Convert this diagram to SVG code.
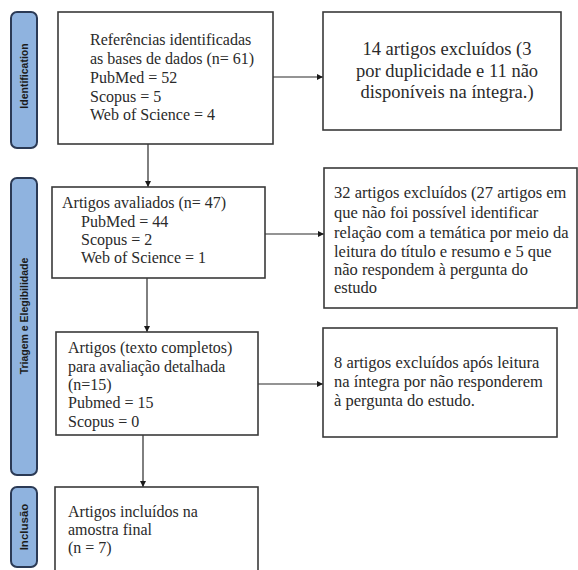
<svg xmlns="http://www.w3.org/2000/svg" width="578" height="570" viewBox="0 0 578 570">
<style>
.bg{fill:#ffffff}
.side{fill:#8fb3df;stroke:#2b3a55;stroke-width:2}
.slabel{font-family:"Liberation Sans",Arial,sans-serif;font-weight:bold;font-size:10.5px;fill:#1b1b1b;text-anchor:middle;dominant-baseline:central}
.box{fill:#ffffff;stroke:#3a3a3a;stroke-width:1.6}
.t{font-family:"Liberation Serif","Times New Roman",serif;font-size:16px;fill:#2a2a2a}
.tl{font-family:"Liberation Serif","Times New Roman",serif;font-size:18.5px;fill:#2a2a2a;text-anchor:middle}
.tm{font-family:"Liberation Serif","Times New Roman",serif;font-size:16.5px;fill:#2a2a2a}
.conn{stroke:#2a2a2a;stroke-width:1.2;fill:none}
</style>
<defs>
<marker id="arr" viewBox="0 0 10 10" refX="10" refY="5" markerWidth="6" markerHeight="6" orient="auto" markerUnits="userSpaceOnUse">
<path d="M0,0 L10,5 L0,10 z" fill="#1a1a1a"/>
</marker>
</defs>
<rect class="bg" x="0" y="0" width="578" height="570"/>

<g id="side-identification">
<rect class="side" x="11" y="12" width="26" height="136" rx="6"/>
<text class="slabel" transform="translate(24,76) rotate(-90)">Identification</text>
</g>
<g id="side-triagem">
<rect class="side" x="11" y="178" width="26" height="297" rx="6"/>
<text class="slabel" transform="translate(24,316) rotate(-90)">Triagem e Elegibilidade</text>
</g>
<g id="side-inclusao">
<rect class="side" x="11" y="487" width="26" height="80" rx="6"/>
<text class="slabel" style="font-size:11.5px" transform="translate(24,527) rotate(-90)">Inclusão</text>
</g>

<g id="connectors">
<line class="conn" x1="273" y1="77" x2="323" y2="77" marker-end="url(#arr)"/>
<line class="conn" x1="148" y1="144" x2="148" y2="187" marker-end="url(#arr)"/>
<line class="conn" x1="265" y1="234" x2="324" y2="234" marker-end="url(#arr)"/>
<line class="conn" x1="147" y1="278" x2="147" y2="332" marker-end="url(#arr)"/>
<line class="conn" x1="258" y1="384" x2="323" y2="384" marker-end="url(#arr)"/>
<line class="conn" x1="143" y1="435" x2="143" y2="487" marker-end="url(#arr)"/>
</g>

<g id="box-referencias">
<rect class="box" x="58" y="12" width="215" height="132"/>
<text class="t" x="90" y="45">Referências  identificadas</text>
<text class="t" x="90" y="64">as bases de dados (n= 61)</text>
<text class="t" x="90" y="83">PubMed = 52</text>
<text class="t" x="90" y="102">Scopus = 5</text>
<text class="t" x="90" y="120">Web of Science = 4</text>
</g>

<g id="box-excluidos14">
<rect class="box" x="323" y="12" width="238" height="118"/>
<text class="tl" x="447" y="55">14 artigos excluídos (3</text>
<text class="tl" x="447" y="77">por duplicidade e 11 não</text>
<text class="tl" x="447" y="98">disponíveis na íntegra.)</text>
</g>

<g id="box-avaliados">
<rect class="box" x="52" y="187" width="213" height="91"/>
<text class="t" x="62" y="208">Artigos avaliados (n= 47)</text>
<text class="t" x="81" y="227">PubMed = 44</text>
<text class="t" x="81" y="245">Scopus = 2</text>
<text class="t" x="81" y="263">Web of Science = 1</text>
</g>

<g id="box-excluidos32">
<rect class="box" x="324" y="168" width="253" height="140"/>
<text class="tm" x="334" y="198">32 artigos excluídos (27 artigos em</text>
<text class="tm" x="334" y="218">que não foi possível identificar</text>
<text class="tm" x="334" y="238">relação com a temática por meio da</text>
<text class="tm" x="334" y="257">leitura do título e resumo e 5 que</text>
<text class="tm" x="334" y="275">não respondem à pergunta do</text>
<text class="tm" x="334" y="293">estudo</text>
</g>

<g id="box-completos">
<rect class="box" x="56" y="332" width="202" height="103"/>
<text class="t" x="68" y="353">Artigos (texto completos)</text>
<text class="t" x="68" y="372">para avaliação detalhada</text>
<text class="t" x="68" y="390">(n=15)</text>
<text class="t" x="68" y="408">Pubmed = 15</text>
<text class="t" x="68" y="427">Scopus = 0</text>
</g>

<g id="box-excluidos8">
<rect class="box" x="323" y="328" width="234" height="109"/>
<text class="tm" x="334" y="368">8 artigos excluídos após leitura</text>
<text class="tm" x="334" y="387">na íntegra por não responderem</text>
<text class="tm" x="334" y="406">à pergunta do estudo.</text>
</g>

<g id="box-incluidos">
<rect class="box" x="55" y="487" width="203" height="90"/>
<text class="t" x="68" y="517">Artigos incluídos na</text>
<text class="t" x="68" y="535">amostra final</text>
<text class="t" x="68" y="553">(n = 7)</text>
</g>
</svg>
